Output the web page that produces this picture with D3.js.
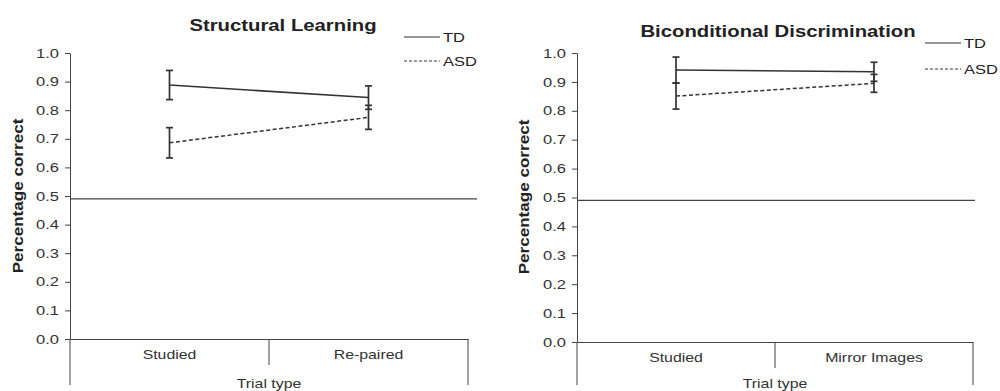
<!DOCTYPE html>
<html>
<head>
<meta charset="utf-8">
<script src="https://cdn.jsdelivr.net/npm/d3@7"></script>
<style>
  body { margin: 0; background: #fff; }
  svg { font-family: "Liberation Sans", Arial, sans-serif; }
  .axis text { fill: #333; }
  .axis path, .axis line { stroke: #444; }
</style>
</head>
<body>
<div id="chart"></div>
<script>
// Data
const categoriesLeft = ["Studied", "Re-paired"]
const categoriesRight = ["Studied", "Mirror Images"]
const yTicks = [0, 0.1, 0.2, 0.3, 0.4, 0.5, 0.6, 0.7, 0.8, 0.9, 1.0]
const groups = ["TD", "ASD"]
const chanceLevel = 0.49

const tdLeft = [0.888, 0.844]
const tdLeftErr = [0.051, 0.041]
const asdLeft = [0.686, 0.775]
const asdLeftErr = [0.053, 0.042]

const tdRight = [0.941, 0.935]
const tdRightErr = [0.045, 0.033]
const asdRight = [0.851, 0.895]
const asdRightErr = [0.045, 0.031]

// the original figure's text is a bit wider than Arial, stretch it along the baseline
const textStretch = 1.27

const svg = d3.select("#chart").append("svg")
  .attr("width", 1000)
  .attr("height", 391)

function stretch(sel) {
  sel.each(function() {
    let t = d3.select(this)
    let x = +t.attr("x") || 0
    let y = +t.attr("y") || 0
    t.attr("transform", "translate(" + x + "," + y + ") scale(" + textStretch + ",1) translate(" + (-x) + "," + (-y) + ")")
  })
}

function drawPanel(o) {
  let g = svg.append("g")

  let x = d3.scaleBand().domain(o.categories).range([o.left, o.right])
  let y = d3.scaleLinear().domain([0, 1]).range([o.bottom, o.top])

  // y axis
  let yAxis = d3.axisLeft(y)
    .tickValues(yTicks)
    .tickFormat(d3.format(".1f"))
    .tickSize(5)
    .tickSizeOuter(0)
  let ya = g.append("g").attr("class", "axis")
    .attr("transform", "translate(" + o.left + ",0)")
    .call(yAxis)
  ya.selectAll("text").style("font-size", "13px").attr("x", -11).call(stretch)

  // x axis, category frame below
  let xAxis = d3.axisBottom(x).tickSize(0).tickSizeOuter(0)
  let xa = g.append("g").attr("class", "axis")
    .attr("transform", "translate(0," + y(0) + ")")
    .call(xAxis)
  xa.selectAll("text").style("font-size", "12.5px").attr("dy", "1.1em").attr("y", 6).call(stretch)

  // dividers for the category boxes
  let edges = o.categories.map(function(c) { return x(c) }).concat([x.range()[1]])
  g.selectAll(".divider")
    .data(edges)
    .enter().append("line")
    .attr("class", "divider")
    .attr("x1", function(d) { return d })
    .attr("x2", function(d) { return d })
    .attr("y1", y(0))
    .attr("y2", function(d, i) { return (i === 0 || i === edges.length - 1) ? 385 : y(0) + 26 })
    .attr("stroke", "#444")

  g.append("text")
    .attr("x", (o.left + o.right) / 2)
    .attr("y", 388)
    .attr("text-anchor", "middle")
    .style("font-size", "12.5px")
    .attr("fill", "#333")
    .text("Trial type")
    .call(stretch)

  // chance line
  g.append("line")
    .attr("x1", o.left).attr("x2", o.chanceEnd)
    .attr("y1", y(chanceLevel)).attr("y2", y(chanceLevel))
    .attr("stroke", "#444").attr("stroke-width", 1.2)

  // y label
  g.append("text")
    .attr("transform", "translate(" + o.labelX + "," + o.labelY + ") rotate(-90) scale(" + 1.22 + ",1)")
    .attr("text-anchor", "middle")
    .style("font-size", "14px")
    .style("font-weight", "bold")
    .attr("fill", "#222")
    .text("Percentage correct")

  // title
  g.append("text")
    .attr("x", o.titleX).attr("y", o.titleY)
    .attr("text-anchor", "middle")
    .style("font-size", "16px")
    .style("font-weight", "bold")
    .attr("fill", "#222")
    .text(o.title)
    .call(stretch)

  let cx = function(i) { return x(o.categories[i]) + x.bandwidth() / 2 }

  let series = [
    {name: groups[0], values: o.td, err: o.tdErr, dash: null},
    {name: groups[1], values: o.asd, err: o.asdErr, dash: "4,2.5"}
  ]

  let line = d3.line()
    .x(function(d, i) { return cx(i) })
    .y(function(d) { return y(d) })

  series.forEach(function(s) {
    g.append("path")
      .datum(s.values)
      .attr("d", line)
      .attr("fill", "none")
      .attr("stroke", "#333")
      .attr("stroke-width", 1.5)
      .attr("stroke-dasharray", s.dash)

    let eb = g.selectAll(null)
      .data(s.values)
      .enter().append("g")
    eb.append("line")
      .attr("x1", function(d, i) { return cx(i) })
      .attr("x2", function(d, i) { return cx(i) })
      .attr("y1", function(d, i) { return y(d + s.err[i]) })
      .attr("y2", function(d, i) { return y(d - s.err[i]) })
      .attr("stroke", "#333").attr("stroke-width", 1.7)
    ;[1, -1].forEach(function(sign) {
      eb.append("line")
        .attr("x1", function(d, i) { return cx(i) - 3.5 })
        .attr("x2", function(d, i) { return cx(i) + 3.5 })
        .attr("y1", function(d, i) { return y(d + sign * s.err[i]) })
        .attr("y2", function(d, i) { return y(d + sign * s.err[i]) })
        .attr("stroke", "#333").attr("stroke-width", 1.7)
    })
  })

  // legend
  let lg = g.selectAll(".legend")
    .data(series)
    .enter().append("g")
    .attr("class", "legend")
    .attr("transform", function(d, i) { return "translate(" + o.legendX + "," + (o.legendY + i * o.legendGap) + ")" })
  lg.append("line")
    .attr("x1", 0).attr("x2", 36)
    .attr("stroke", "#333").attr("stroke-width", 1.2)
    .attr("stroke-dasharray", function(d) { return d.dash ? "3,2" : null })
  lg.append("text")
    .attr("x", 39).attr("dy", "0.35em")
    .style("font-size", "13px")
    .attr("fill", "#222")
    .text(function(d) { return d.name })
    .call(stretch)
}

drawPanel({
  categories: categoriesLeft, td: tdLeft, tdErr: tdLeftErr, asd: asdLeft, asdErr: asdLeftErr,
  left: 70, right: 468, top: 53, bottom: 339, chanceEnd: 477,
  labelX: 23, labelY: 196, title: "Structural Learning", titleX: 283, titleY: 31,
  legendX: 404, legendY: 37, legendGap: 24
})

drawPanel({
  categories: categoriesRight, td: tdRight, tdErr: tdRightErr, asd: asdRight, asdErr: asdRightErr,
  left: 577, right: 973, top: 53, bottom: 342, chanceEnd: 975,
  labelX: 529, labelY: 197, title: "Biconditional Discrimination", titleX: 778, titleY: 37,
  legendX: 925, legendY: 43, legendGap: 26
})
</script>
</body>
</html>
